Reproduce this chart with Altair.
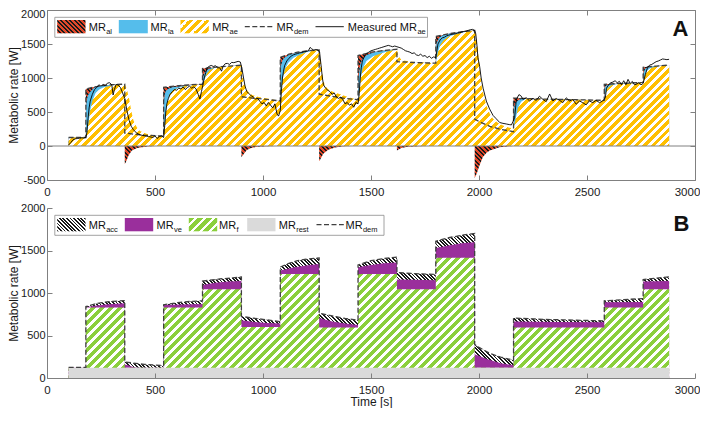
import math
import altair as alt
import pandas as pd

FONT = "Liberation Sans"

# ---------------- values (time [s], rate [W]) ----------------
dem = [(100,125),(180,125),(180,840),(220,870),(260,890),(300,902),(360,910),
       (360,190),(400,175),(450,160),(540,145),
       (540,862),(600,885),(660,900),(720,908),
       (720,1140),(800,1165),(900,1188),
       (900,725),(950,705),(1000,690),(1080,663),
       (1080,1305),(1120,1350),(1160,1380),(1200,1398),(1260,1413),
       (1260,762),(1320,730),(1380,700),(1440,680),
       (1440,1330),(1500,1380),(1560,1405),(1620,1422),
       (1620,1240),(1700,1228),(1800,1218),
       (1800,1610),(1860,1650),(1920,1680),(1980,1700),
       (1980,395),(2000,360),(2050,290),(2100,245),(2160,210),
       (2160,705),(2300,690),(2450,680),(2580,672),
       (2580,908),(2670,922),(2760,934),
       (2760,1158),(2820,1175),(2880,1190)]

mr_ae = [(100,125),(180,125),(190,286),(200,521),(210,662),(225,779),(240,826),(260,859),(290,883),(300,895),(330,905),(360,910),
         (370,830),(380,700),(390,520),(400,380),(415,280),(430,220),(460,180),(500,155),(540,145),
         (547,380),(554,615),(567,756),(586,826),(617,864),(650,885),(680,897),(720,908),
         (728,967),(740,1061),(755,1122),(786,1158),(830,1172),(870,1180),(900,1188),
         (905,1050),(915,900),(930,800),(950,750),(980,720),(1020,698),(1050,680),(1080,663),
         (1087,897),(1094,1038),(1102,1131),(1117,1225),(1141,1296),(1171,1343),(1200,1380),(1230,1400),(1260,1413),
         (1265,1300),(1275,1050),(1285,900),(1300,840),(1320,800),(1350,770),(1400,715),(1440,680),
         (1445,803),(1452,991),(1461,1131),(1479,1249),(1510,1320),(1556,1370),(1590,1400),(1620,1422),
         (1625,1340),(1635,1285),(1650,1258),(1700,1235),(1760,1223),(1800,1218),
         (1810,1380),(1820,1480),(1835,1550),(1860,1610),(1900,1650),(1940,1680),(1980,1700),
         (1985,1647),(1995,1400),(2003,1150),(2011,900),(2019,780),(2034,600),(2049,480),(2065,400),(2088,340),(2111,300),(2140,270),(2160,260),
         (2170,400),(2180,560),(2195,650),(2215,690),(2250,697),(2300,690),(2450,680),(2580,672),
         (2585,760),(2595,850),(2610,890),(2640,910),(2700,920),(2760,934),
         (2765,1000),(2775,1100),(2790,1140),(2820,1170),(2850,1180),(2880,1190)]

mr_ae_la = [(100,125),(180,125),(181,600),(185,690),(190,745),(200,795),(210,830),(220,860),(240,880),(260,890),(300,902),(360,910),
            (360,190),(400,175),(450,160),(540,145),
            (541,640),(545,760),(550,810),(560,840),(580,865),(620,880),(660,895),(720,908),
            (721,1000),(730,1080),(745,1130),(770,1155),(800,1165),(900,1188),
            (900,725),(950,705),(1000,690),(1080,663),
            (1081,1150),(1090,1260),(1100,1300),(1120,1340),(1150,1370),(1200,1398),(1260,1413),
            (1260,762),(1320,730),(1380,700),(1440,680),
            (1442,1000),(1450,1200),(1460,1280),(1480,1340),(1520,1385),(1560,1405),(1620,1422),
            (1620,1240),(1700,1228),(1800,1218),
            (1802,1500),(1815,1590),(1830,1625),(1860,1650),(1920,1680),(1980,1700),
            (1980,395),(2000,360),(2050,290),(2100,245),(2160,210),
            (2162,560),(2170,640),(2185,680),(2210,698),(2300,690),(2450,680),(2580,672),
            (2582,860),(2590,895),(2610,908),(2670,922),(2760,934),
            (2762,1080),(2770,1140),(2790,1165),(2820,1175),(2880,1190)]

mr_al_neg = [(360,0),(360,-265),(365,-240),(378,-135),(393,-66),(417,-28),(463,-8),(500,0),
             (900,0),(900,-165),(910,-120),(925,-60),(945,-28),(975,-10),(1020,-3),(1060,0),
             (1260,0),(1260,-225),(1265,-200),(1279,-113),(1302,-56),(1333,-23),(1372,-5),(1410,0),
             (1620,0),(1620,-65),(1640,-30),(1670,-12),(1720,-3),(1760,0),
             (1980,0),(1980,-470),(1990,-400),(2003,-280),(2018,-160),(2035,-100),(2050,-66),(2095,-20),(2140,-5),(2160,0)]

measured = [(100,15),(110,50),(120,90),(130,105),(140,110),(150,115),(160,120),(170,118),(180,125),
            (185,200),(190,400),(195,560),(200,660),(210,760),(220,830),(230,860),(240,900),(250,880),(260,905),(270,890),
            (280,925),(290,930),(300,900),(306,750),(312,830),(320,905),(330,895),(340,860),(350,780),(360,700),
            (370,520),(380,380),(390,290),(400,240),(415,190),(430,165),(450,150),(470,140),(490,125),(500,150),
            (510,110),(520,140),(530,150),(540,125),
            (545,300),(550,500),(555,620),(562,700),(570,760),(580,800),(590,830),(600,820),(610,850),(620,840),
            (630,870),(640,830),(650,860),(660,880),(670,850),(680,870),(690,840),(700,760),(708,690),(715,800),
            (722,900),(728,1000),(735,1080),(742,1150),(750,1170),(760,1185),(770,1170),(780,1180),(790,1150),(800,1150),
            (808,1100),(815,1170),(825,1210),(835,1215),(845,1200),(855,1230),(865,1225),(875,1235),(885,1245),(895,1235),
            (902,1150),(910,1000),(917,880),(925,800),(935,770),(945,740),(955,720),(965,690),(975,700),(985,660),
            (995,620),(1005,640),(1015,590),(1025,640),(1035,600),(1045,560),(1055,620),(1065,470),(1072,440),(1080,520),
            (1085,800),(1090,1000),(1095,1100),(1100,1180),(1110,1250),(1120,1290),(1130,1320),(1140,1340),(1150,1350),
            (1160,1360),(1170,1370),(1180,1375),(1190,1385),(1200,1390),(1210,1400),(1218,1450),(1225,1430),(1235,1410),
            (1245,1420),(1255,1410),(1262,1380),(1270,1150),(1275,1000),(1280,900),(1290,850),(1300,820),(1310,800),
            (1320,760),(1330,780),(1340,720),(1350,700),(1360,720),(1370,680),(1380,620),(1390,640),(1400,600),(1410,620),
            (1420,570),(1430,640),(1440,620),(1445,750),(1450,1000),(1455,1150),(1460,1250),(1470,1320),(1480,1360),
            (1490,1380),(1500,1400),(1510,1410),(1520,1420),(1530,1430),(1540,1440),(1550,1450),(1560,1460),(1570,1470),
            (1580,1480),(1590,1470),(1600,1460),(1610,1470),(1620,1460),(1630,1450),(1640,1440),(1650,1420),(1660,1400),
            (1670,1390),(1680,1380),(1690,1360),(1700,1370),(1710,1340),(1720,1330),(1730,1350),(1740,1320),(1750,1330),
            (1760,1300),(1770,1320),(1780,1290),(1790,1310),(1800,1300),(1805,1400),(1810,1500),(1820,1560),(1830,1590),
            (1840,1600),(1850,1620),(1860,1630),(1870,1640),(1880,1645),(1890,1650),(1900,1660),(1910,1665),(1920,1675),
            (1930,1685),(1940,1690),(1950,1700),(1960,1710),(1970,1715),(1980,1700),(1985,1650),(1990,1500),(1995,1300),
            (2003,1170),(2010,1000),(2019,850),(2034,660),(2049,545),(2065,450),(2080,400),(2096,345),(2111,333),
            (2126,324),(2140,315),(2150,310),(2157,357),(2165,420),(2173,685),(2185,756),(2196,732),(2203,685),(2219,709),
            (2234,662),(2250,699),(2265,671),(2280,732),(2296,685),(2311,652),(2327,765),(2342,662),(2357,699),(2373,671),
            (2388,638),(2404,709),(2419,662),(2434,685),(2450,615),(2465,662),(2480,638),(2496,605),(2511,662),(2527,638),
            (2542,671),(2558,638),(2573,662),(2585,709),(2590,850),(2600,900),(2610,930),(2620,940),(2630,960),(2640,930),
            (2650,950),(2660,900),(2670,960),(2680,900),(2690,980),(2700,920),(2710,950),(2720,900),(2730,910),(2740,930),
            (2750,900),(2760,920),(2770,1050),(2780,1150),(2790,1190),(2800,1200),(2810,1220),(2820,1240),(2830,1250),
            (2840,1265),(2850,1280),(2860,1275),(2870,1270),(2880,1275)]

mr_rest = [(100,120),(2880,120)]

mr_f_top = [(100,120),(180,120),(180,830),(360,830),(360,120),(540,120),(540,830),(720,830),(720,1045),(900,1045),
            (900,600),(1080,600),(1080,1225),(1260,1225),(1260,595),(1440,595),(1440,1225),(1620,1225),(1620,1045),
            (1800,1045),(1800,1415),(1980,1415),(1980,120),(2160,120),(2160,595),(2580,595),(2580,830),(2760,830),
            (2760,1045),(2880,1045)]

mr_ve_top = [(100,120),(180,120),(180,832),(220,850),(270,865),(360,880),(360,160),(375,150),(395,132),(420,122),(540,120),
             (540,858),(620,865),(720,870),(720,1095),(780,1120),(840,1135),(900,1140),(900,680),(960,660),(1020,648),
             (1080,642),(1080,1265),(1140,1300),(1200,1325),(1260,1340),(1260,706),(1320,665),(1380,640),(1440,623),
             (1440,1302),(1500,1330),(1560,1350),(1620,1360),(1620,1160),(1700,1155),(1800,1150),(1800,1528),(1860,1560),
             (1920,1585),(1980,1596),(1980,280),(2040,220),(2100,175),(2160,150),(2160,665),(2370,660),(2580,655),
             (2580,890),(2760,895),(2760,1135),(2880,1140)]

x_ticks = [0, 500, 1000, 1500, 2000, 2500, 3000]
yA_ticks = [-500, 0, 500, 1000, 1500, 2000]
yB_ticks = [0, 500, 1000, 1500, 2000]

# ---------------- layout / style ----------------
W = 648
HA = 170
HB = 170
GAP = 28
SX = W / 3000.0
SYA = HA / 2500.0
SYB = HB / 2000.0
GRAY = "#808080"
TXT = "#1a1a1a"
YELLOW = "#FFBF00"
GREEN = "#8BCF3C"
BLUE = "#55BDEB"
PURPLE = "#9A2F9C"
RED = "#E2492B"
RESTGRAY = "#DADADA"
DEMC = "#404040"
DEM_W = 1.3


def frame(pairs):
    return pd.DataFrame({"t": [p[0] for p in pairs], "w": [p[1] for p in pairs],
                         "z": [0] * len(pairs), "i": list(range(len(pairs)))})


def bbox(pairs, sy):
    ts = [p[0] for p in pairs]
    ws = [p[1] for p in pairs] + [0]
    return (max(ts) - min(ts)) * SX, (max(ws) - min(ws)) * sy


def hatch(c1, c2, period, frac, direction, w, h):
    L = w + h
    n = int(math.ceil(L / period))
    stops = []
    for k in range(n):
        s = k * period / L
        m = min((k + frac) * period / L, 1.0)
        e = min((k + 1) * period / L, 1.0)
        stops += [{"offset": round(s, 6), "color": c1}, {"offset": round(m, 6), "color": c1},
                  {"offset": round(m, 6), "color": c2}, {"offset": round(e, 6), "color": c2}]
    a = L / (w * w + h * h)
    if direction == "/":
        return {"gradient": "linear", "x1": 0, "y1": 0, "x2": a * w, "y2": a * h, "stops": stops}
    return {"gradient": "linear", "x1": 0, "y1": 1, "x2": a * w, "y2": 1 - a * h, "stops": stops}


xs = alt.Scale(domain=[0, 3000], nice=False, zero=False)
ysA = alt.Scale(domain=[-500, 2000], nice=False, zero=False)
ysB = alt.Scale(domain=[0, 2000], nice=False, zero=False)

# keep the last x label inside the page
X_LABEL_SHIFT = {"condition": {"test": "datum.value == 3000", "value": -8}, "value": 0}
# keep the top y label of panel A inside the page
Y_LABEL_SHIFT = {"condition": {"test": "datum.value == 2000", "value": 4}, "value": 0}


def main_x(title=None, domain=False):
    return alt.Axis(orient="bottom", values=x_ticks, ticks=False, tickSize=0, domain=domain,
                    domainColor=GRAY, grid=False, labelPadding=6, labelFontSize=11.5, labelFont=FONT,
                    labelColor=TXT, labelFlush=False, labelExpr="'' + datum.value",
                    labelOffset=X_LABEL_SHIFT, title=title,
                    titleFont=FONT, titleFontSize=12, titleFontWeight="normal", titleColor=TXT,
                    titlePadding=1, zindex=1)


def main_y(values, domain=False, shift=None):
    kw = {}
    if shift is not None:
        kw["labelOffset"] = shift
    return alt.Axis(orient="left", values=values, ticks=False, tickSize=0, domain=domain,
                    domainColor=GRAY, grid=False, labelPadding=2, labelFontSize=11, labelFont=FONT,
                    labelColor=TXT, labelExpr="'' + datum.value", labelFlush=False,
                    title="Metabolic rate [W]", titleFont=FONT, titleFontSize=12,
                    titleFontWeight="normal", titleColor=TXT, titlePadding=0, zindex=1, **kw)


def tick_axis(orient, values):
    return alt.Axis(orient=orient, values=values, labels=False, domain=False, grid=False, ticks=True,
                    tickSize=5, tickColor=GRAY, offset=-5, title=None, zindex=1)


def area(pairs, fill, ys, xaxis=None, yaxis=None):
    return alt.Chart(frame(pairs)).mark_area(fill=fill, opacity=1, interpolate="linear").encode(
        x=alt.X("t:Q", scale=xs, axis=xaxis),
        y=alt.Y("w:Q", scale=ys, axis=yaxis, stack=None),
        y2=alt.Y2("z:Q"))


def line(pairs, ys, color, width, dash=None, xaxis=None, yaxis=None):
    kw = dict(color=color, strokeWidth=width)
    if dash:
        kw["strokeDash"] = dash
    return alt.Chart(frame(pairs)).mark_line(**kw).encode(
        x=alt.X("t:Q", scale=xs, axis=xaxis),
        y=alt.Y("w:Q", scale=ys, axis=yaxis),
        order=alt.Order("i:Q"))


one = pd.DataFrame({"k": [0]})


def lg_rect(x1, x2, y1, y2, fill, stroke=None):
    kw = dict(fill=fill, opacity=1)
    if stroke:
        kw.update(stroke=stroke, strokeWidth=0.8)
    return alt.Chart(one).mark_rect(**kw).encode(
        x=alt.value(x1), x2=alt.value(x2), y=alt.value(y1), y2=alt.value(y2))


def lg_rule(x1, x2, y, color, width, dash=None):
    kw = dict(color=color, strokeWidth=width)
    if dash:
        kw["strokeDash"] = dash
    return alt.Chart(one).mark_rule(**kw).encode(x=alt.value(x1), x2=alt.value(x2), y=alt.value(y))


def lg_text(x, y, txt, size, weight="normal", align="left"):
    return alt.Chart(one).mark_text(text=txt, align=align, baseline="alphabetic", fontSize=size,
                                    font=FONT, fontWeight=weight, color="#111").encode(
        x=alt.value(x), y=alt.value(y))


def lg_label(x, sub):
    return [lg_text(x, 20.5, "MR", 11), lg_text(x + 17.4, 24.3, sub, 7.5)]


SW_Y1, SW_Y2 = 10, 23.3

# ---------------- panel A ----------------
red_fill = hatch(RED, "#1a1a1a", 4.5, 0.55, "\\", *bbox(dem, SYA))
red_neg_fill = hatch(RED, "#1a1a1a", 4.5, 0.55, "\\", *bbox(mr_al_neg, SYA))
yellow_fill = hatch(YELLOW, "#ffffff", 8.5, 0.56, "/", *bbox(mr_ae, SYA))

a_layers = [
    area(dem, red_fill, ysA),
    area(mr_ae_la, BLUE, ysA),
    area(mr_ae, yellow_fill, ysA, xaxis=main_x(), yaxis=main_y(yA_ticks, shift=Y_LABEL_SHIFT)),
    area(mr_al_neg, red_neg_fill, ysA),
    alt.Chart(one).mark_rule(color=GRAY, strokeWidth=1).encode(y=alt.YDatum(0, scale=ysA, axis=None)),
    line(dem, ysA, DEMC, DEM_W, [5, 2.5], xaxis=tick_axis("bottom", x_ticks), yaxis=tick_axis("left", yA_ticks)),
    line(measured, ysA, "#000000", 0.9, None, xaxis=tick_axis("top", x_ticks), yaxis=tick_axis("right", yA_ticks)),
    lg_rect(7.8, 380.5, 7.3, 27.3, "#ffffff", stroke="#8c8c8c"),
    lg_rect(10.2, 38.5, SW_Y1, SW_Y2, hatch(RED, "#1a1a1a", 4.5, 0.55, "\\", 28.3, 13.3)),
    lg_rect(71.8, 100.8, SW_Y1, SW_Y2, BLUE),
    lg_rect(133.5, 161.8, SW_Y1, SW_Y2, hatch(YELLOW, "#ffffff", 8.5, 0.56, "/", 28.3, 13.3)),
    lg_rule(197.8, 226.8, 16.7, DEMC, DEM_W, [5, 2.5]),
    lg_rule(268.5, 296.8, 16.7, "#000000", 0.9),
    *lg_label(41.8, "al"),
    *lg_label(103.5, "la"),
    *lg_label(165.2, "ae"),
    *lg_label(229.5, "dem"),
    lg_text(300.8, 20.5, "Measured MR", 11),
    lg_text(370.4, 24.3, "ae", 7.5),
    lg_text(W - 14.5, 26, "A", 22, weight="bold", align="center"),
]

panel_a = alt.layer(*a_layers).resolve_axis(x="independent", y="independent").properties(
    width=W, height=HA, view=alt.ViewBackground(stroke=GRAY, strokeWidth=1))

# ---------------- panel B ----------------
acc_fill = hatch("#1a1a1a", "#ffffff", 3.6, 0.5, "\\", *bbox(dem, SYB))
green_fill = hatch(GREEN, "#ffffff", 9.0, 0.6, "/", *bbox(mr_f_top, SYB))

b_layers = [
    area(dem, acc_fill, ysB),
    area(mr_ve_top, PURPLE, ysB),
    area(mr_f_top, green_fill, ysB),
    area(mr_rest, RESTGRAY, ysB, xaxis=main_x("Time [s]", domain=True),
         yaxis=main_y(yB_ticks, domain=True)),
    line(dem, ysB, DEMC, DEM_W, [5, 2.5], xaxis=tick_axis("bottom", x_ticks), yaxis=tick_axis("left", yB_ticks)),
    lg_rect(7.8, 337, 7.3, 27.3, "#ffffff", stroke="#8c8c8c"),
    lg_rect(10.2, 38.5, SW_Y1, SW_Y2, hatch("#1a1a1a", "#ffffff", 3.6, 0.5, "\\", 28.3, 13.3)),
    lg_rect(77.8, 106.2, SW_Y1, SW_Y2, PURPLE),
    lg_rect(141.8, 170.2, SW_Y1, SW_Y2, hatch(GREEN, "#ffffff", 9.0, 0.6, "/", 28.4, 13.3)),
    lg_rect(200.2, 228.5, SW_Y1, SW_Y2, RESTGRAY),
    lg_rule(269.5, 296.8, 16.7, DEMC, DEM_W, [5, 2.5]),
    *lg_label(41.8, "acc"),
    *lg_label(109.5, "ve"),
    *lg_label(172.0, "f"),
    *lg_label(231.8, "rest"),
    *lg_label(298.5, "dem"),
    lg_text(W - 13.5, 23.3, "B", 22, weight="bold", align="center"),
]

panel_b = alt.layer(*b_layers).resolve_axis(x="independent", y="independent").properties(
    width=W, height=HB)

# the page is 708 x 426 with an 8 px margin: keep the drawing inside 692 x ~400
PAD_L, PAD_T = 39, 2
chart = alt.vconcat(panel_a, panel_b, spacing=GAP, bounds="flush").properties(
    autosize=alt.AutoSizeParams(type="none", contains="content"),
    padding={"left": PAD_L, "top": PAD_T, "right": 692 - PAD_L - W, "bottom": 398},
).configure(font=FONT).configure_view(stroke=None)

chart.save("out.html", embed_options={"renderer": "svg", "actions": False})
